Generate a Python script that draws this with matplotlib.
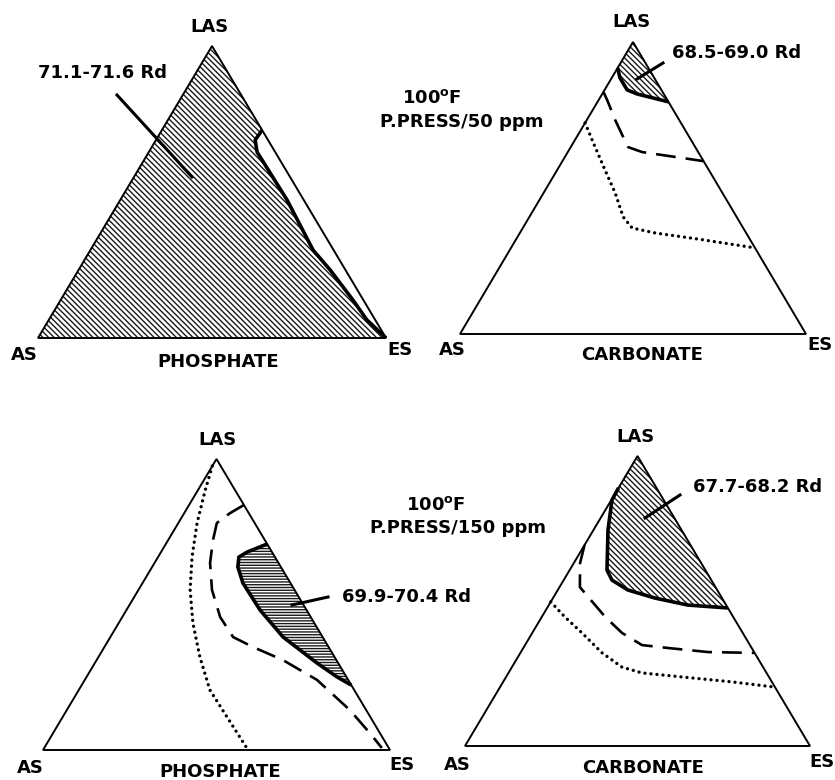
import numpy as np
import matplotlib
matplotlib.use('Agg')
import matplotlib.pyplot as plt
from matplotlib.patches import Polygon

plt.rcParams['font.family'] = ['DejaVu Sans']
plt.rcParams['font.weight'] = 'bold'
plt.rcParams['hatch.linewidth'] = 1.0

# -----------------------------
# DATA: compositions as (LAS, ES) fractions, AS = 1 - LAS - ES
# -----------------------------
vertex_labels = ['LAS', 'AS', 'ES']
builders = ['PHOSPHATE', 'CARBONATE', 'PHOSPHATE', 'CARBONATE']
temp_label = '100$^{\\mathbf{o}}$F'
press_labels = ['P.PRESS/50 ppm', 'P.PRESS/150 ppm']
region_labels = ['71.1-71.6 Rd', '68.5-69.0 Rd', '69.9-70.4 Rd', '67.7-68.2 Rd']

# phosphate 50 ppm - best region boundary
p50_solid_las = [0.712, 0.678, 0.637, 0.473, 0.301, 0.233, 0.130, 0.062, 0.0]
p50_solid_es = [0.288, 0.285, 0.311, 0.479, 0.640, 0.723, 0.840, 0.914, 1.0]

# carbonate 50 ppm
c50_solid_las = [0.911, 0.877, 0.836, 0.822, 0.795]
c50_solid_es = [0.0, 0.024, 0.065, 0.101, 0.205]
c50_dash_las = [0.829, 0.801, 0.733, 0.675, 0.640, 0.623, 0.610, 0.592]
c50_dash_es = [0.0, 0.025, 0.082, 0.134, 0.166, 0.215, 0.296, 0.408]
c50_dot_las = [0.723, 0.664, 0.562, 0.483, 0.401, 0.363, 0.346, 0.325, 0.295]
c50_dot_es = [0.0, 0.050, 0.138, 0.207, 0.271, 0.316, 0.391, 0.526, 0.705]

# phosphate 150 ppm
p150_solid_las = [0.708, 0.680, 0.663, 0.629, 0.574, 0.481, 0.388, 0.299, 0.251, 0.223]
p150_solid_es = [0.292, 0.248, 0.233, 0.247, 0.289, 0.385, 0.498, 0.640, 0.722, 0.777]
p150_dash_las = [0.842, 0.814, 0.780, 0.722, 0.643, 0.550, 0.457, 0.388, 0.354,
                 0.309, 0.241, 0.137, 0.058, 0.007]
p150_dash_es = [0.158, 0.132, 0.111, 0.129, 0.160, 0.212, 0.282, 0.354, 0.428,
                0.537, 0.669, 0.816, 0.913, 0.973]
p150_dot_las = [0.976, 0.893, 0.780, 0.663, 0.550, 0.436, 0.320, 0.206, 0.113, 0.0]
p150_dot_es = [0.0, 0.021, 0.054, 0.098, 0.149, 0.214, 0.292, 0.378, 0.474, 0.591]

# carbonate 150 ppm
c150_solid_las = [0.890, 0.848, 0.745, 0.607, 0.572, 0.538, 0.510, 0.486, 0.476]
c150_solid_es = [0.0, 0.002, 0.042, 0.108, 0.140, 0.203, 0.296, 0.403, 0.524]
c150_dash_las = [0.693, 0.631, 0.548, 0.514, 0.445, 0.390, 0.348, 0.338, 0.324, 0.321]
c150_dash_es = [0.0, 0.018, 0.059, 0.100, 0.184, 0.260, 0.339, 0.419, 0.542, 0.679]
c150_dot_las = [0.497, 0.445, 0.390, 0.321, 0.272, 0.252, 0.238, 0.221, 0.203]
c150_dot_es = [0.0, 0.067, 0.144, 0.237, 0.319, 0.387, 0.510, 0.664, 0.797]

# -----------------------------
# LAYOUT (pixels in the 835x780 canvas)
# -----------------------------
W, H = 835, 780
# left, right, base y, apex y of each triangle
tri_boxes = [(38, 386, 338, 46), (460, 806, 334, 42),
             (43, 390, 750, 459), (465, 810, 746, 456)]


def to_xy(las, es):
    las = np.asarray(las, float)
    es = np.asarray(es, float)
    return es + las / 2, las


fig = plt.figure(figsize=(W / 100, H / 100), dpi=100)
fig.patch.set_facecolor('white')

axes = []
for (l, r, b, t) in tri_boxes:
    ax = fig.add_axes([l / W, (H - b) / H, (r - l) / W, (b - t) / H])
    ax.set_xlim(0, 1)
    ax.set_ylim(0, 1)
    ax.axis('off')
    axes.append(ax)


def frame(ax):
    ax.add_patch(Polygon([[0, 0], [1, 0], [0.5, 1]], closed=True, fill=False,
                         edgecolor='black', linewidth=1.4, zorder=5,
                         joinstyle='miter', clip_on=False))


def region(ax, las, es, prefix, hatch):
    x, y = to_xy(las, es)
    pts = [[px, py] for px, py in zip(x, y)]
    poly = Polygon(prefix + pts, closed=True, facecolor='white',
                   edgecolor='#1a1a1a', linewidth=0, hatch=hatch, zorder=2,
                   clip_on=False)
    ax.add_patch(poly)
    ax.plot(x, y, color='black', linewidth=2.6, solid_capstyle='butt',
            solid_joinstyle='round', zorder=4, clip_on=False)


def dashed(ax, las, es):
    x, y = to_xy(las, es)
    ax.plot(x, y, color='black', linewidth=1.9, dashes=(7.5, 3.8), zorder=4,
            clip_on=False)


def dotted(ax, las, es):
    x, y = to_xy(las, es)
    ax.plot(x, y, color='black', linewidth=2.4, dashes=(0.01, 1.8),
            dash_capstyle='round', zorder=4, clip_on=False)


diag = '\\' * 6
horiz = '-' * 6

# top left: phosphate 50 ppm
ax = axes[0]
region(ax, p50_solid_las, p50_solid_es, [[0, 0], [0.5, 1]], diag)
frame(ax)

# top right: carbonate 50 ppm
ax = axes[1]
region(ax, c50_solid_las, c50_solid_es, [[0.5, 1]], diag)
dashed(ax, c50_dash_las, c50_dash_es)
dotted(ax, c50_dot_las, c50_dot_es)
frame(ax)

# bottom left: phosphate 150 ppm
ax = axes[2]
region(ax, p150_solid_las, p150_solid_es, [], horiz)
dashed(ax, p150_dash_las, p150_dash_es)
dotted(ax, p150_dot_las, p150_dot_es)
frame(ax)

# bottom right: carbonate 150 ppm
ax = axes[3]
region(ax, c150_solid_las, c150_solid_es, [[0.5, 1]], diag)
dashed(ax, c150_dash_las, c150_dash_es)
dotted(ax, c150_dot_las, c150_dot_es)
frame(ax)

# -----------------------------
# TEXT overlay in pixel coordinates
# -----------------------------
ov = fig.add_axes([0, 0, 1, 1], zorder=10)
ov.set_xlim(0, W)
ov.set_ylim(H, 0)
ov.axis('off')
ov.patch.set_alpha(0)

fs = 13
apex_lbl = [(209, 27), (632, 22), (217, 440), (636, 437)]
as_lbl = [(24, 355), (452, 350), (30, 768), (457, 765)]
es_lbl = [(400, 350), (820, 345), (402, 765), (822, 762)]
builder_lbl = [(218, 362), (642, 355), (220, 772), (643, 768)]
for i in range(4):
    ov.text(*apex_lbl[i], vertex_labels[0], ha='center', va='center', fontsize=fs)
    ov.text(*as_lbl[i], vertex_labels[1], ha='center', va='center', fontsize=fs)
    ov.text(*es_lbl[i], vertex_labels[2], ha='center', va='center', fontsize=fs)
    ov.text(*builder_lbl[i], builders[i], ha='center', va='center', fontsize=fs)

temp_pos = [(432, 98), (436, 505)]
press_pos = [(462, 122), (458, 528)]
for i in range(2):
    ov.text(*temp_pos[i], temp_label, ha='center', va='center', fontsize=fs)
    ov.text(*press_pos[i], press_labels[i], ha='center', va='center', fontsize=fs)

rlbl_pos = [(103, 73, 'center'), (737, 53, 'center'), (342, 597, 'left'),
            (758, 487, 'center')]
leaders = [((117, 95), (192, 177)), ((663, 63), (637, 79)),
           ((328, 597), (292, 605)), ((680, 495), (645, 518))]
for (x, y, ha), txt, (p0, p1) in zip(rlbl_pos, region_labels, leaders):
    ov.text(x, y, txt, ha=ha, va='center', fontsize=fs)
    ov.plot([p0[0], p1[0]], [p0[1], p1[1]], color='black', linewidth=2.2)

fig.savefig('out.png', dpi=100, facecolor='white')
